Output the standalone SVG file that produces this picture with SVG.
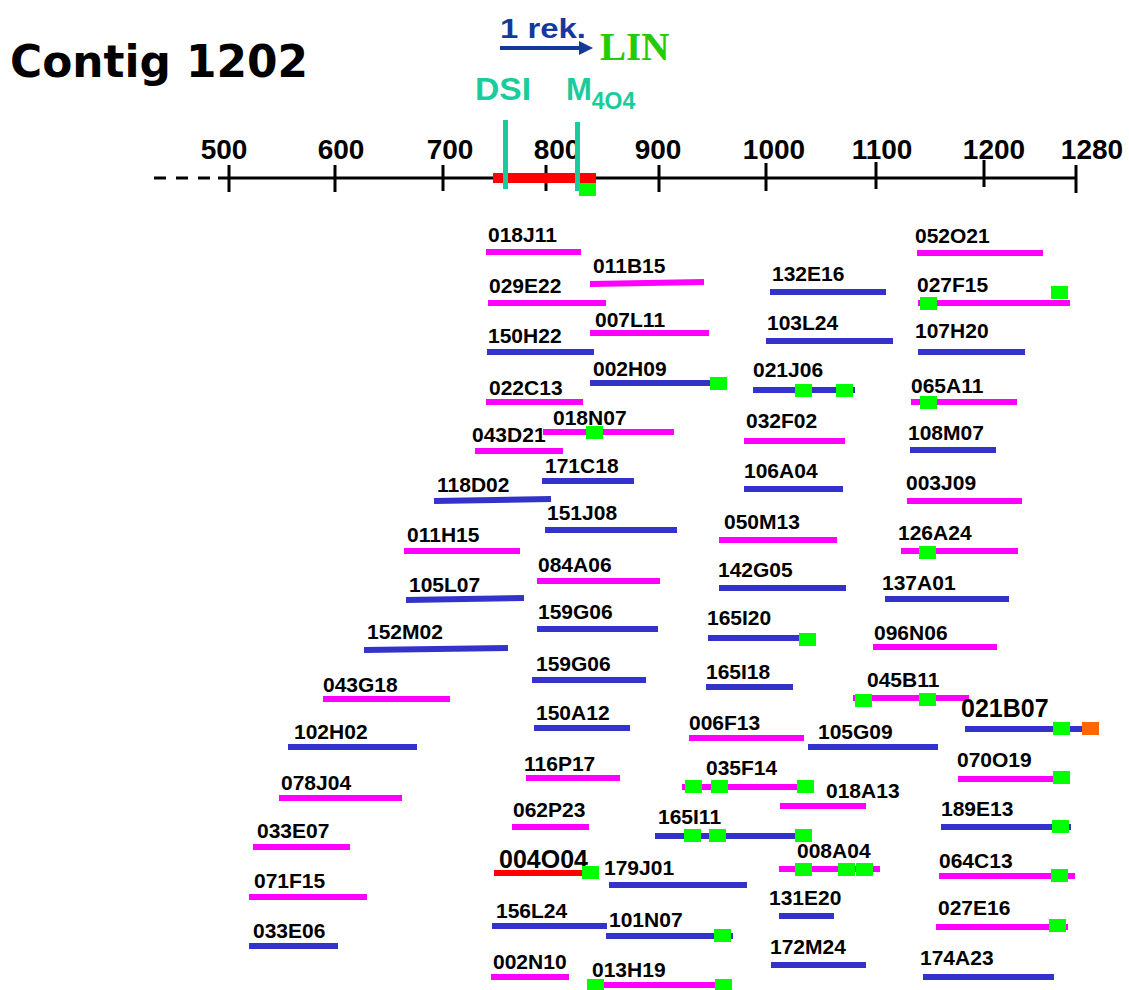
<svg xmlns="http://www.w3.org/2000/svg" xmlns:xlink="http://www.w3.org/1999/xlink" width="1129" height="990" viewBox="0 0 1129 990">
  <style>
    .lbl { font-family: "Liberation Sans", Arial, sans-serif; font-weight: bold; font-size: 21px; fill: #000; }
    .big { font-size: 25px; }
    .m { stroke: #FF00FF; stroke-width: 6; fill: none; }
    .b { stroke: #3333CC; stroke-width: 6; fill: none; }
    .r { stroke: #FF0000; stroke-width: 6; fill: none; }
    .ax { stroke: #000; stroke-width: 3; fill: none; }
    .tick { font-family: "Liberation Sans", Arial, sans-serif; font-weight: bold; font-size: 28px; fill: #000; text-anchor: middle; }
    .teal { fill: #19CC9B; font-family: "Liberation Sans", Arial, sans-serif; font-weight: bold; }
  </style>
  <defs>
    <rect id="sq" width="17" height="13" fill="#00FF00"/>
    <rect id="osq" width="17" height="13" fill="#FF6600"/>
  </defs>
  <rect width="1129" height="990" fill="#fff"/>

  <!-- title and markers above the scale -->
  <g id="title">
    <text x="10" y="77" font-family="'Comic Sans MS', 'DejaVu Sans', sans-serif" font-weight="bold" font-size="44" textLength="298" lengthAdjust="spacingAndGlyphs">Contig 1202</text>
  </g>
  <g id="rek">
    <text x="500" y="38" font-family="'Liberation Sans', Arial, sans-serif" font-weight="bold" font-size="27" fill="#15399A" textLength="86" lengthAdjust="spacingAndGlyphs">1 rek.</text>
    <path d="M500 48H581" stroke="#15399A" stroke-width="4"/>
    <polygon points="579,41 593,48 579,55" fill="#15399A"/>
  </g>
  <g id="lin">
    <text x="600" y="60" font-family="'Liberation Serif', 'Times New Roman', serif" font-weight="bold" font-size="39" fill="#22CC00">LIN</text>
  </g>
  <g id="dsi">
    <text class="teal" x="475" y="100" font-size="31" textLength="56" lengthAdjust="spacingAndGlyphs">DSI</text>
  </g>
  <g id="m404">
    <text class="teal" x="566" y="100" font-size="31">M<tspan font-size="23" dy="9">4O4</tspan></text>
  </g>

  <!-- coordinate scale -->
  <g id="scale">
    <path class="ax" d="M154 178H213" stroke-dasharray="12 10"/>
    <path class="ax" d="M218 178H1077"/>
    <path class="ax" d="M229 165V192M335 165V192M443 165V191M546 165V191M659 165V192M766 163V191M876 162V189M984 160V187M1076 165V193"/>
    <text class="tick" x="224" y="159">500</text>
    <text class="tick" x="341" y="159">600</text>
    <text class="tick" x="450" y="159">700</text>
    <text class="tick" x="557" y="159">800</text>
    <text class="tick" x="658" y="159">900</text>
    <text class="tick" x="774" y="159">1000</text>
    <text class="tick" x="882" y="159">1100</text>
    <text class="tick" x="994" y="159">1200</text>
    <text class="tick" x="1092" y="159">1280</text>
    <rect x="493" y="173" width="103" height="10" fill="#FF0000"/>
    <rect x="503" y="120" width="5" height="69" fill="#19CC9B"/>
    <rect x="575" y="122" width="5" height="69" fill="#19CC9B"/>
    <use xlink:href="#sq" x="579" y="183"/>
  </g>

  <!-- clones: left and centre columns -->
  <g id="c018J11"><text class="lbl" x="488" y="242">018J11</text><path class="m" d="M486 252H581"/></g>
  <g id="c011B15"><text class="lbl" x="593" y="273">011B15</text><path class="m" d="M590 284L704 282"/></g>
  <g id="c029E22"><text class="lbl" x="489" y="293">029E22</text><path class="m" d="M488 303H606"/></g>
  <g id="c007L11"><text class="lbl" x="595" y="327">007L11</text><path class="m" d="M590 333H709"/></g>
  <g id="c150H22"><text class="lbl" x="488" y="343">150H22</text><path class="b" d="M487 352H594"/></g>
  <g id="c002H09"><text class="lbl" x="593" y="376">002H09</text><path class="b" d="M590 383H712"/><use xlink:href="#sq" x="710" y="377"/></g>
  <g id="c022C13"><text class="lbl" x="489" y="395">022C13</text><path class="m" d="M486 402H583"/></g>
  <g id="c018N07"><text class="lbl" x="553" y="425">018N07</text><path class="m" d="M543 432H674"/><use xlink:href="#sq" x="586" y="426"/></g>
  <g id="c043D21"><text class="lbl" x="472" y="442">043D21</text><path class="m" d="M475 451H563"/></g>
  <g id="c171C18"><text class="lbl" x="545" y="473">171C18</text><path class="b" d="M542 481H634"/></g>
  <g id="c118D02"><text class="lbl" x="437" y="492">118D02</text><path class="b" d="M434 501L551 499"/></g>
  <g id="c151J08"><text class="lbl" x="547" y="520">151J08</text><path class="b" d="M545 530H677"/></g>
  <g id="c011H15"><text class="lbl" x="407" y="542">011H15</text><path class="m" d="M404 551H520"/></g>
  <g id="c084A06"><text class="lbl" x="538" y="572">084A06</text><path class="m" d="M537 581H660"/></g>
  <g id="c105L07"><text class="lbl" x="409" y="592">105L07</text><path class="b" d="M406 600L524 598"/></g>
  <g id="c159G06a"><text class="lbl" x="538" y="619">159G06</text><path class="b" d="M537 629H658"/></g>
  <g id="c152M02"><text class="lbl" x="367" y="639">152M02</text><path class="b" d="M364 650L508 648"/></g>
  <g id="c159G06b"><text class="lbl" x="536" y="671">159G06</text><path class="b" d="M532 680H646"/></g>
  <g id="c043G18"><text class="lbl" x="323" y="692">043G18</text><path class="m" d="M323 699H450"/></g>
  <g id="c150A12"><text class="lbl" x="536" y="720">150A12</text><path class="b" d="M534 728H630"/></g>
  <g id="c102H02"><text class="lbl" x="294" y="739">102H02</text><path class="b" d="M288 747H417"/></g>
  <g id="c116P17"><text class="lbl" x="524" y="771">116P17</text><path class="m" d="M526 778H620"/></g>
  <g id="c078J04"><text class="lbl" x="281" y="790">078J04</text><path class="m" d="M279 798H402"/></g>
  <g id="c062P23"><text class="lbl" x="513" y="817">062P23</text><path class="m" d="M512 827H589"/></g>
  <g id="c033E07"><text class="lbl" x="257" y="838">033E07</text><path class="m" d="M253 847H350"/></g>
  <g id="c004O04"><text class="lbl big" x="499" y="868">004O04</text><path class="r" d="M494 873H583"/><use xlink:href="#sq" x="582" y="866"/></g>
  <g id="c179J01"><text class="lbl" x="604" y="875">179J01</text><path class="b" d="M609 885H747"/></g>
  <g id="c071F15"><text class="lbl" x="254" y="888">071F15</text><path class="m" d="M249 897H367"/></g>
  <g id="c156L24"><text class="lbl" x="496" y="918">156L24</text><path class="b" d="M492 926H607"/></g>
  <g id="c101N07"><text class="lbl" x="609" y="927">101N07</text><path class="b" d="M606 936H733"/><use xlink:href="#sq" x="714" y="929"/></g>
  <g id="c033E06"><text class="lbl" x="253" y="938">033E06</text><path class="b" d="M249 946H338"/></g>
  <g id="c002N10"><text class="lbl" x="493" y="969">002N10</text><path class="m" d="M491 977H569"/></g>
  <g id="c013H19"><text class="lbl" x="592" y="977">013H19</text><path class="m" d="M587 985H732"/><use xlink:href="#sq" x="587" y="979"/><use xlink:href="#sq" x="715" y="979"/></g>

  <!-- clones: middle-right column -->
  <g id="c132E16"><text class="lbl" x="772" y="281">132E16</text><path class="b" d="M770 292H886"/></g>
  <g id="c103L24"><text class="lbl" x="767" y="330">103L24</text><path class="b" d="M766 341H893"/></g>
  <g id="c021J06"><text class="lbl" x="753" y="377">021J06</text><path class="b" d="M753 390H855"/><use xlink:href="#sq" x="795" y="384"/><use xlink:href="#sq" x="836" y="384"/></g>
  <g id="c032F02"><text class="lbl" x="746" y="428">032F02</text><path class="m" d="M744 441H845"/></g>
  <g id="c106A04"><text class="lbl" x="744" y="478">106A04</text><path class="b" d="M744 489H843"/></g>
  <g id="c050M13"><text class="lbl" x="724" y="529">050M13</text><path class="m" d="M719 540H837"/></g>
  <g id="c142G05"><text class="lbl" x="718" y="577">142G05</text><path class="b" d="M719 588H846"/></g>
  <g id="c165I20"><text class="lbl" x="707" y="625">165I20</text><path class="b" d="M708 638H801"/><use xlink:href="#sq" x="799" y="633"/></g>
  <g id="c165I18"><text class="lbl" x="706" y="679">165I18</text><path class="b" d="M706 687H793"/></g>
  <g id="c006F13"><text class="lbl" x="689" y="730">006F13</text><path class="m" d="M689 738H804"/></g>
  <g id="c105G09"><text class="lbl" x="818" y="739">105G09</text><path class="b" d="M808 747H938"/></g>
  <g id="c035F14"><text class="lbl" x="706" y="775">035F14</text><path class="m" d="M682 787H814"/><use xlink:href="#sq" x="685" y="780"/><use xlink:href="#sq" x="711" y="780"/><use xlink:href="#sq" x="797" y="780"/></g>
  <g id="c018A13"><text class="lbl" x="826" y="798">018A13</text><path class="m" d="M780 806H866"/></g>
  <g id="c165I11"><text class="lbl" x="658" y="824">165I11</text><path class="b" d="M655 836H812"/><use xlink:href="#sq" x="684" y="829"/><use xlink:href="#sq" x="709" y="829"/><use xlink:href="#sq" x="795" y="829"/></g>
  <g id="c008A04"><text class="lbl" x="797" y="858">008A04</text><path class="m" d="M779 869H880"/><use xlink:href="#sq" x="795" y="863"/><use xlink:href="#sq" x="838" y="863"/><use xlink:href="#sq" x="856" y="863"/></g>
  <g id="c131E20"><text class="lbl" x="769" y="905">131E20</text><path class="b" d="M779 916H834"/></g>
  <g id="c172M24"><text class="lbl" x="770" y="954">172M24</text><path class="b" d="M771 965H866"/></g>

  <!-- clones: right column -->
  <g id="c052O21"><text class="lbl" x="915" y="243">052O21</text><path class="m" d="M917 253H1043"/></g>
  <g id="c027F15"><text class="lbl" x="917" y="292">027F15</text><path class="m" d="M918 303H1070"/><use xlink:href="#sq" x="920" y="297"/><use xlink:href="#sq" x="1051" y="286"/></g>
  <g id="c107H20"><text class="lbl" x="915" y="338">107H20</text><path class="b" d="M918 352H1025"/></g>
  <g id="c065A11"><text class="lbl" x="911" y="393">065A11</text><path class="m" d="M911 402H1017"/><use xlink:href="#sq" x="920" y="396"/></g>
  <g id="c108M07"><text class="lbl" x="908" y="440">108M07</text><path class="b" d="M910 450H996"/></g>
  <g id="c003J09"><text class="lbl" x="906" y="490">003J09</text><path class="m" d="M907 501H1022"/></g>
  <g id="c126A24"><text class="lbl" x="898" y="540">126A24</text><path class="m" d="M901 551H1018"/><use xlink:href="#sq" x="919" y="546"/></g>
  <g id="c137A01"><text class="lbl" x="882" y="590">137A01</text><path class="b" d="M885 599H1009"/></g>
  <g id="c096N06"><text class="lbl" x="874" y="640">096N06</text><path class="m" d="M873 647H997"/></g>
  <g id="c045B11"><text class="lbl" x="867" y="687">045B11</text><path class="m" d="M853 698H969"/><use xlink:href="#sq" x="855" y="694"/><use xlink:href="#sq" x="919" y="693"/></g>
  <g id="c021B07"><text class="lbl big" x="961" y="717">021B07</text><path class="b" d="M965 729H1083"/><use xlink:href="#sq" x="1053" y="722"/><use xlink:href="#osq" x="1082" y="722"/></g>
  <g id="c070O19"><text class="lbl" x="957" y="767">070O19</text><path class="m" d="M958 779H1054"/><use xlink:href="#sq" x="1053" y="771"/></g>
  <g id="c189E13"><text class="lbl" x="941" y="816">189E13</text><path class="b" d="M941 827H1071"/><use xlink:href="#sq" x="1052" y="820"/></g>
  <g id="c064C13"><text class="lbl" x="939" y="868">064C13</text><path class="m" d="M939 876H1075"/><use xlink:href="#sq" x="1051" y="869"/></g>
  <g id="c027E16"><text class="lbl" x="938" y="915">027E16</text><path class="m" d="M936 927H1068"/><use xlink:href="#sq" x="1049" y="919"/></g>
  <g id="c174A23"><text class="lbl" x="920" y="965">174A23</text><path class="b" d="M923 977H1054"/></g>

  <!-- no connecting lines between clones -->
  <g id="connectors"/>
</svg>
